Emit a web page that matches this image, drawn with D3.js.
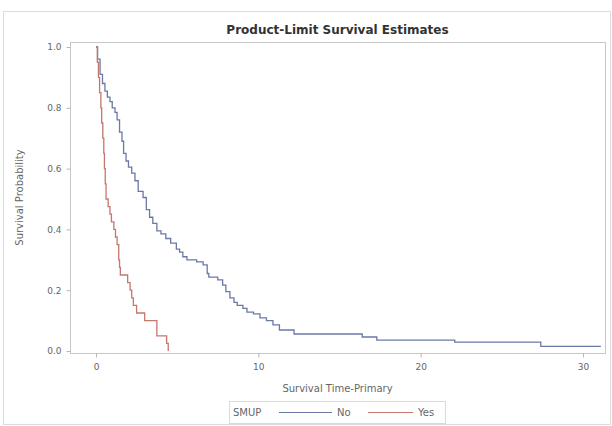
<!DOCTYPE html>
<html>
<head>
<meta charset="utf-8">
<script src="https://cdn.jsdelivr.net/npm/d3@7"></script>
<style>
  body { margin: 0; background: #fff; }
  text { font-family: "DejaVu Sans", "Liberation Sans", Arial, sans-serif; }
</style>
</head>
<body>
<div id="chart"></div>
<script>
// Kaplan-Meier estimates (time, survival)
const noTimes = [0, 0.1, 0.25, 0.4, 0.55, 0.7, 0.86, 1.0, 1.17, 1.3, 1.45, 1.6, 1.7, 1.85, 2.0, 2.2, 2.4, 2.6, 2.9, 3.1,
  3.3, 3.5, 3.75, 4.0, 4.3, 4.6, 4.95, 5.15, 5.35, 5.6, 6.2, 6.6, 6.85, 6.95, 7.5, 7.8, 8.0, 8.25, 8.5, 8.7,
  9.05, 9.3, 9.7, 10.1, 10.5, 10.9, 11.3, 12.2, 16.4, 17.3, 22.1, 27.4, 31.1];
const noSurv = [1.0, 0.96, 0.91, 0.88, 0.855, 0.835, 0.82, 0.8, 0.785, 0.76, 0.72, 0.69, 0.65, 0.625, 0.605, 0.585, 0.56, 0.525, 0.505, 0.465,
  0.44, 0.42, 0.395, 0.385, 0.37, 0.355, 0.335, 0.325, 0.31, 0.3, 0.293, 0.283, 0.255, 0.243, 0.234, 0.217, 0.195, 0.175, 0.16, 0.15,
  0.14, 0.128, 0.122, 0.109, 0.1, 0.086, 0.069, 0.056, 0.046, 0.036, 0.029, 0.015, 0.015];

const yesTimes = [0, 0.08, 0.15, 0.22, 0.3, 0.35, 0.42, 0.48, 0.52, 0.57, 0.62, 0.75, 0.86, 0.95, 1.1, 1.2, 1.3, 1.4, 1.45, 1.5,
  1.95, 2.1, 2.2, 2.3, 2.5, 3.0, 3.75, 4.35, 4.45];
const yesSurv = [1.0, 0.95, 0.9, 0.85, 0.8, 0.75, 0.7, 0.65, 0.6, 0.55, 0.5, 0.475, 0.45, 0.425, 0.4, 0.375, 0.35, 0.3, 0.275, 0.25,
  0.225, 0.2, 0.175, 0.15, 0.125, 0.1, 0.05, 0.025, 0];

const groups = ["No", "Yes"];
const xTicks = [0, 10, 20, 30];
const yTicks = [0, 0.2, 0.4, 0.6, 0.8, 1.0];

const W = 612, H = 426;
const colors = { No: "#6a79a6", Yes: "#c4776c" };

const svg = d3.select("#chart").append("svg")
  .attr("width", W)
  .attr("height", H);

// outer border
svg.append("rect")
  .attr("x", 3.5).attr("y", 11.5)
  .attr("width", 607).attr("height", 413)
  .attr("fill", "none").attr("stroke", "#dcdcdc");

// plot frame
const frame = { left: 70, right: 605, top: 42, bottom: 353 };

const x = d3.scaleLinear().domain([0, 30]).range([96, 583]);
const y = d3.scaleLinear().domain([0, 1]).range([351, 47]);

svg.append("text")
  .attr("x", (frame.left + frame.right) / 2)
  .attr("y", 34)
  .attr("text-anchor", "middle")
  .style("font-size", "12px")
  .style("font-weight", "bold")
  .attr("fill", "#333")
  .text("Product-Limit Survival Estimates");

svg.append("rect")
  .attr("x", frame.left + 0.5).attr("y", frame.top + 0.5)
  .attr("width", frame.right - frame.left).attr("height", frame.bottom - frame.top)
  .attr("fill", "none").attr("stroke", "#c8c8c8");

// axes
const xAxis = svg.append("g")
  .attr("transform", `translate(0,${frame.bottom + 0.5})`)
  .call(d3.axisBottom(x).tickValues(xTicks).tickSize(4).tickPadding(6));
const yAxis = svg.append("g")
  .attr("transform", `translate(${frame.left + 0.5},0)`)
  .call(d3.axisLeft(y).tickValues(yTicks).tickFormat(d3.format(".1f")).tickSize(4).tickPadding(5));

[xAxis, yAxis].forEach(g => {
  g.select(".domain").remove();
  g.selectAll(".tick line").attr("stroke", "#b8b8b8");
  g.selectAll(".tick text").attr("fill", "#666").style("font-size", "9px")
    .style("font-family", "'DejaVu Sans', Arial, sans-serif");
});

svg.append("text")
  .attr("x", (frame.left + frame.right) / 2)
  .attr("y", 392)
  .attr("text-anchor", "middle")
  .style("font-size", "10px")
  .attr("fill", "#666")
  .text("Survival Time-Primary");

svg.append("text")
  .attr("transform", `translate(23,${(frame.top + frame.bottom) / 2}) rotate(-90)`)
  .attr("text-anchor", "middle")
  .style("font-size", "10px")
  .attr("fill", "#666")
  .text("Survival Probability");

// survival curves
const series = [
  { name: "No", pts: noTimes.map((t, i) => [t, noSurv[i]]) },
  { name: "Yes", pts: yesTimes.map((t, i) => [t, yesSurv[i]]) }
];

const line = d3.line()
  .x(d => x(d[0]))
  .y(d => y(d[1]))
  .curve(d3.curveStepAfter);

svg.selectAll(".km")
  .data(series)
  .enter().append("path")
  .attr("class", "km")
  .attr("d", d => line(d.pts))
  .attr("fill", "none")
  .attr("stroke", d => colors[d.name])
  .attr("stroke-width", 1.3);

// legend
const leg = svg.append("g");
leg.append("rect")
  .attr("x", 229.5).attr("y", 401.5)
  .attr("width", 216).attr("height", 22)
  .attr("fill", "none").attr("stroke", "#dadada");
leg.append("text")
  .attr("x", 233).attr("y", 416)
  .style("font-size", "10px").attr("fill", "#666")
  .text("SMUP");
const legItems = [
  { name: "No", x0: 279, x1: 332 },
  { name: "Yes", x0: 368, x1: 413 }
];
groups.forEach((g, i) => {
  const it = legItems[i];
  leg.append("line")
    .attr("x1", it.x0).attr("x2", it.x1)
    .attr("y1", 412.5).attr("y2", 412.5)
    .attr("stroke", colors[g]).attr("stroke-width", 1.2);
  leg.append("text")
    .attr("x", it.x1 + 5).attr("y", 416)
    .style("font-size", "10px").attr("fill", "#666")
    .text(g);
});
</script>
</body>
</html>
